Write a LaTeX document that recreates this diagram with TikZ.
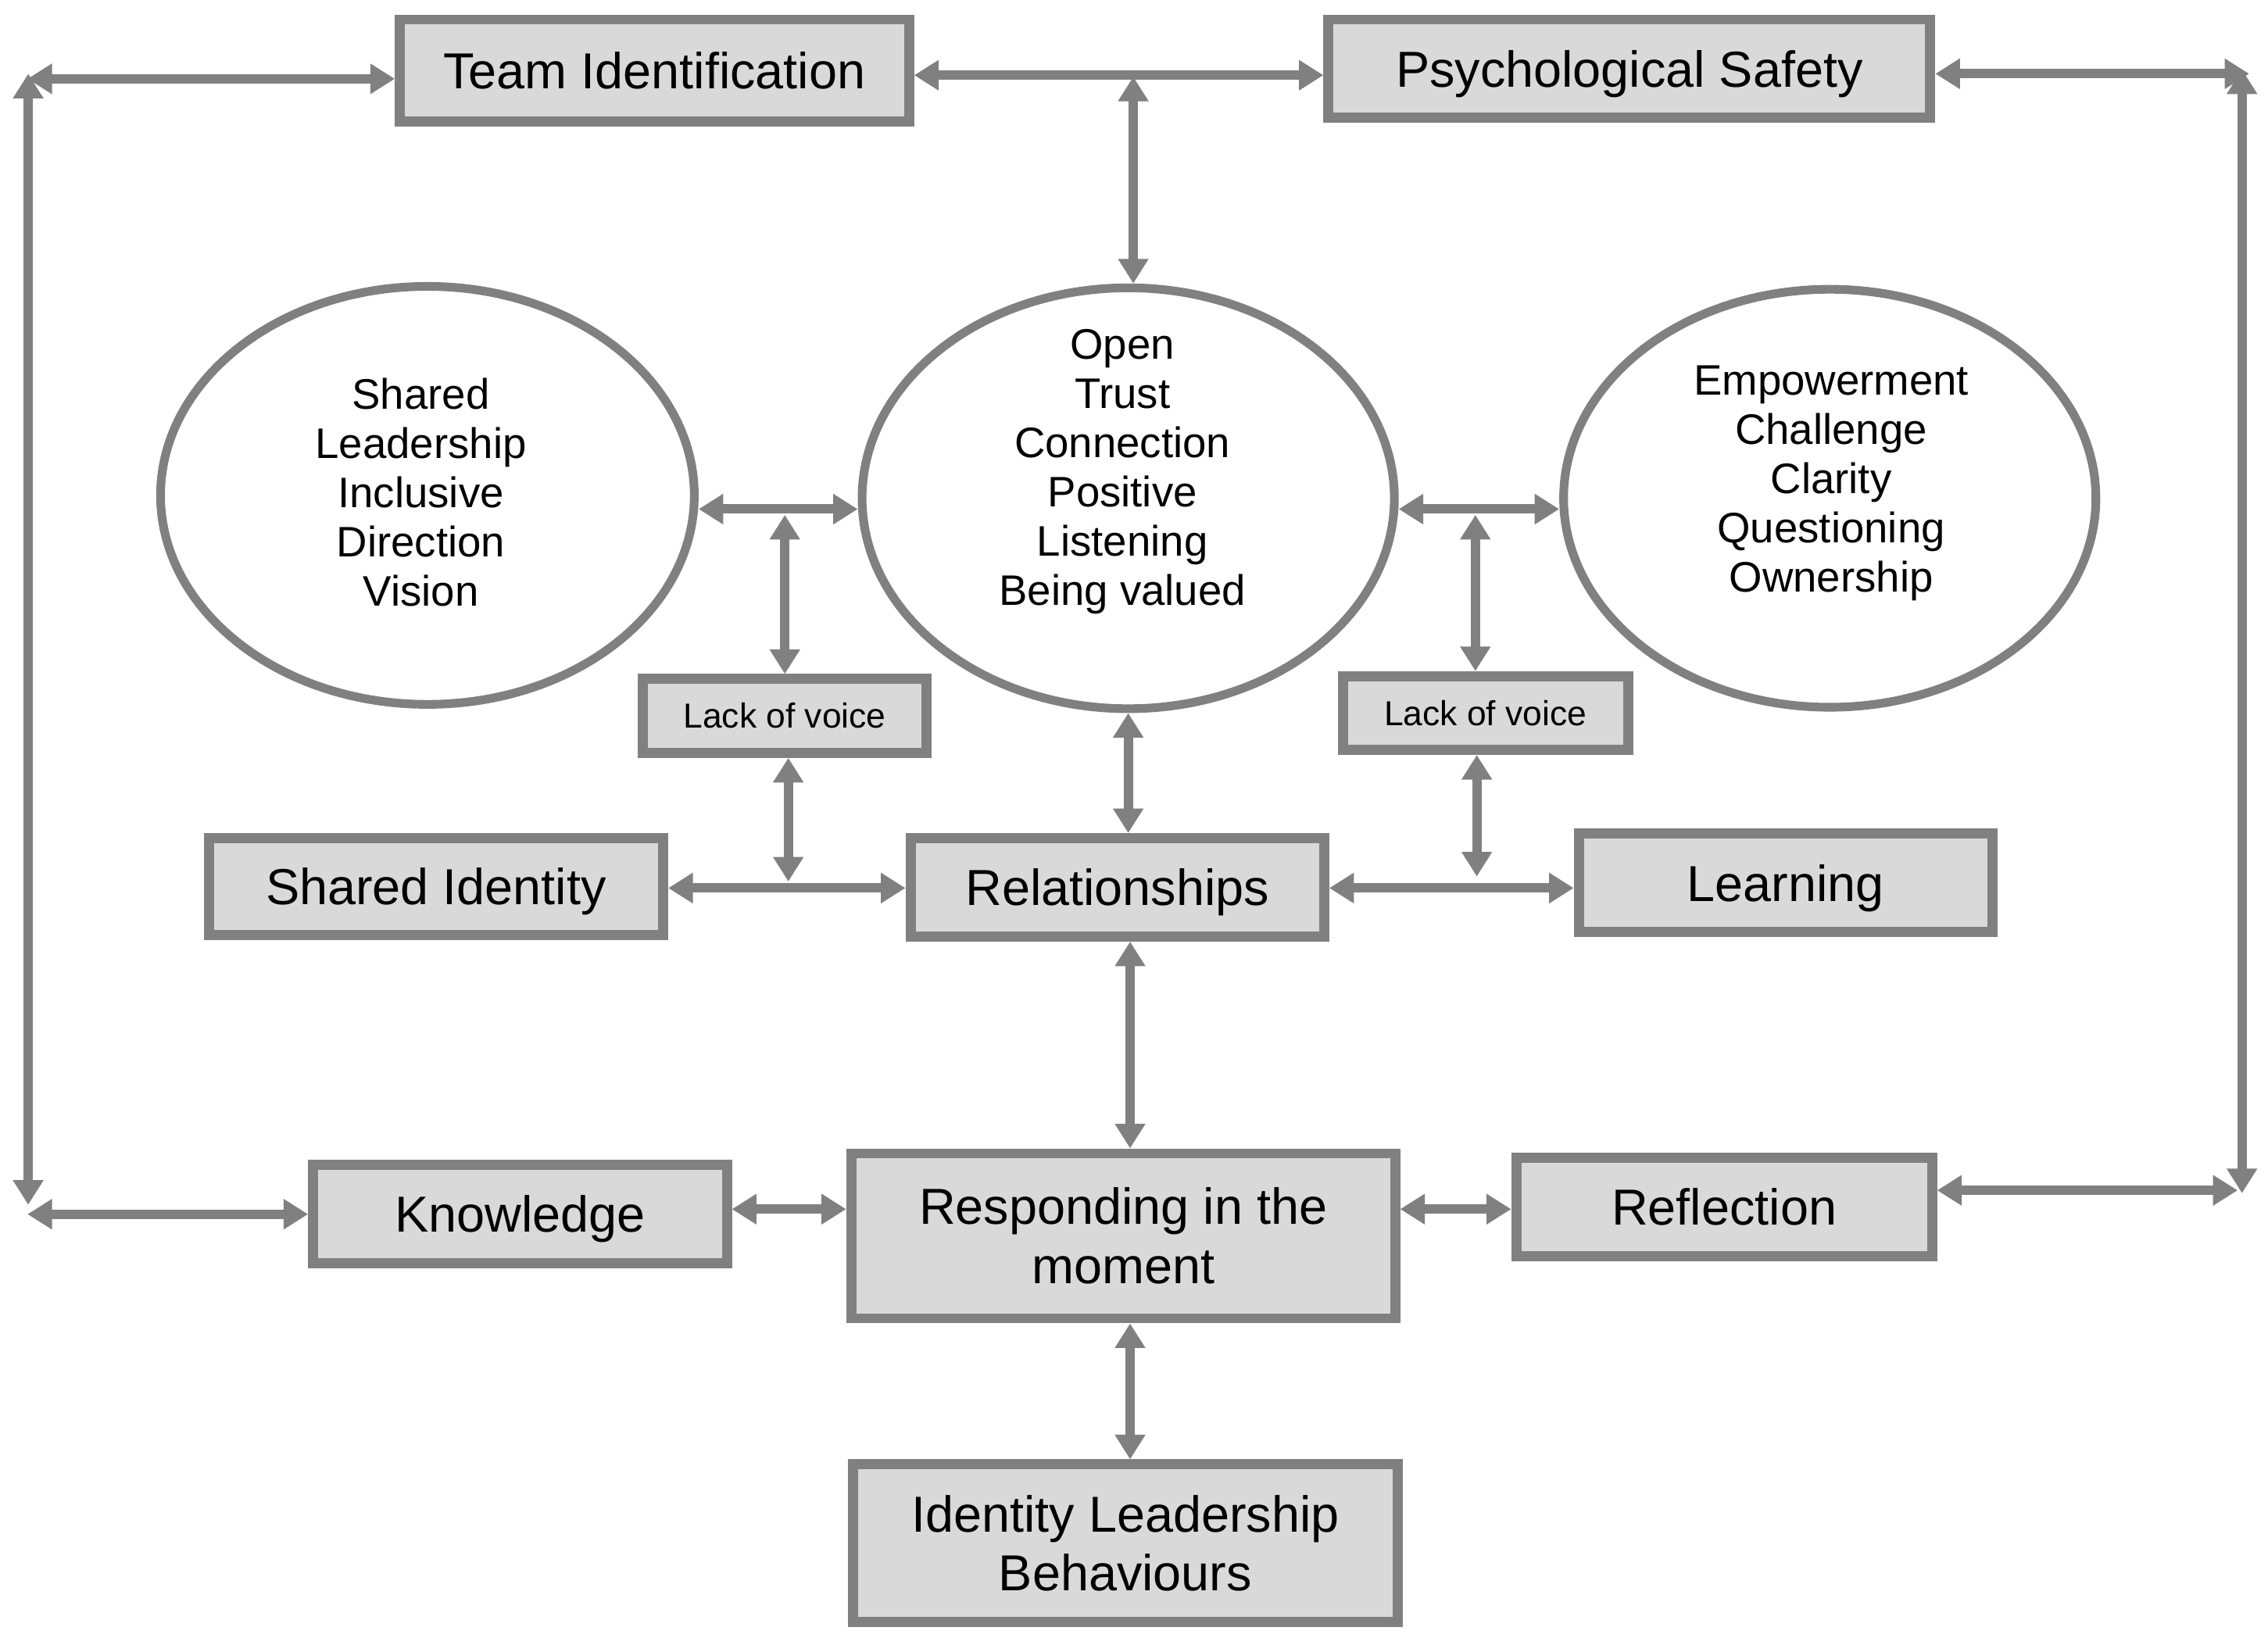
\documentclass[tikz,border=0pt]{standalone}
\usepackage{fontspec}
\setmainfont{Liberation Sans}
\usetikzlibrary{arrows.meta,shapes.geometric}
\definecolor{bgray}{HTML}{808080}
\definecolor{fgray}{HTML}{D9D9D9}
\tikzset{
  box/.style={draw=bgray, fill=fgray, line width=7pt, inner sep=0pt, align=center,
    font=\fontsize{35}{41}\selectfont},
  sline/.style={text height=25pt, text depth=0pt},
  lvbox/.style={box, font=\fontsize{24}{28}\selectfont, text height=17pt, text depth=0pt},
  oval/.style={ellipse, draw=bgray, line width=6pt, inner sep=0pt},
  otext/.style={align=center, inner sep=0pt, font=\fontsize{29.5}{34}\selectfont},
  conn/.style={draw=bgray, line width=6.5pt,
    arrows={Triangle[length=17pt,width=20pt]-Triangle[length=17pt,width=20pt]}},
}
\begin{document}
\begin{tikzpicture}[x=1pt,y=-1pt]
\useasboundingbox (0,0) rectangle (1568,1137);
\fill[white] (0,0) rectangle (1568,1137);

% boxes
\node[box, sline, minimum width=352pt, minimum height=70.5pt] (ti) at (452.5,48.75) {Team Identification};
\node[box, sline, minimum width=416pt, minimum height=68pt] (ps) at (1126.5,47.5) {Psychological Safety};
\node[box, sline, minimum width=314pt, minimum height=67pt] (sid) at (301.5,613) {Shared Identity};
\node[box, sline, minimum width=286pt, minimum height=68pt] (rel) at (772.5,613.5) {Relationships};
\node[box, sline, minimum width=286pt, minimum height=68pt] (lrn) at (1234.5,610.5) {Learning};
\node[lvbox, minimum width=196pt, minimum height=51pt] (lv1) at (542.5,495) {Lack of voice};
\node[lvbox, minimum width=197pt, minimum height=51pt] (lv2) at (1027,493) {Lack of voice};
\node[box, sline, minimum width=286pt, minimum height=68pt] (kn) at (359.5,839.5) {Knowledge};
\node[box, minimum width=376pt, minimum height=114pt] (rsp) at (776.5,854.5) {Responding in the\\moment};
\node[box, sline, minimum width=287.5pt, minimum height=68pt] (rfl) at (1192,834.5) {Reflection};
\node[box, minimum width=377pt, minimum height=109pt] (ilb) at (778,1067) {Identity Leadership\\Behaviours};

% ellipses
\node[oval, minimum width=369pt, minimum height=289pt] (le) at (295.5,342.5) {};
\node[oval, minimum width=368pt, minimum height=291pt] (me) at (780,344.5) {};
\node[oval, minimum width=368pt, minimum height=289pt] (re) at (1265,344.5) {};
\node[otext] (lt) at (291,340.5) {Shared\\Leadership\\Inclusive\\Direction\\Vision};
\node[otext] (mt) at (776,326) {Open\\Trust\\Connection\\Positive\\Listening\\Being valued};
\node[otext] (rt) at (1266,334) {Empowerment\\Challenge\\Clarity\\Questioning\\Ownership};

% helper coordinates
\coordinate (tlv) at (19.5,51);
\coordinate (blv) at (19.5,833);
\coordinate (tlh) at (19,54.5);
\coordinate (blh) at (19,839.5);
\coordinate (trv) at (1550,48);
\coordinate (brv) at (1550,825);
\coordinate (trh) at (1555,51);
\coordinate (brh) at (1547,823);
\coordinate (tm) at (783.5,52);
\coordinate (tmv) at (783.5,53);
\coordinate (ey) at (0,352);
\coordinate (v1t) at (542.6,356);
\coordinate (v2t) at (1020,356);
\coordinate (v1b) at (545,609.5);
\coordinate (v2b) at (1021,606);
\coordinate (hy) at (0,614);
\coordinate (vx) at (781.3,0);
\coordinate (ky) at (0,836);

% connectors
\draw[conn] (tlv) -- (blv);
\draw[conn] (tlh) -- (ti.west |- tlh);
\draw[conn] (blh) -- (kn.west |- blh);
\draw[conn] (trv) -- (brv);
\draw[conn] (ps.east |- trh) -- (trh);
\draw[conn] (rfl.east |- brh) -- (brh);
\draw[conn] (ti.east |- tm) -- (ps.west |- tm);
\draw[conn] (tmv) -- (tmv |- me.north);
\draw[conn] (le.east |- ey) -- (me.west |- ey);
\draw[conn] (me.east |- ey) -- (re.west |- ey);
\draw[conn] (v1t) -- (v1t |- lv1.north);
\draw[conn] (v2t) -- (v2t |- lv2.north);
\draw[conn] (v1b |- lv1.south) -- (v1b);
\draw[conn] (v2b |- lv2.south) -- (v2b);
\draw[conn] (sid.east |- hy) -- (rel.west |- hy);
\draw[conn] (rel.east |- hy) -- (lrn.west |- hy);
\draw[conn] (me.south) -- (me.south |- rel.north);
\draw[conn] (vx |- rel.south) -- (vx |- rsp.north);
\draw[conn] (vx |- rsp.south) -- (vx |- ilb.north);
\draw[conn] (kn.east |- ky) -- (rsp.west |- ky);
\draw[conn] (rsp.east |- ky) -- (rfl.west |- ky);
\end{tikzpicture}
\end{document}
